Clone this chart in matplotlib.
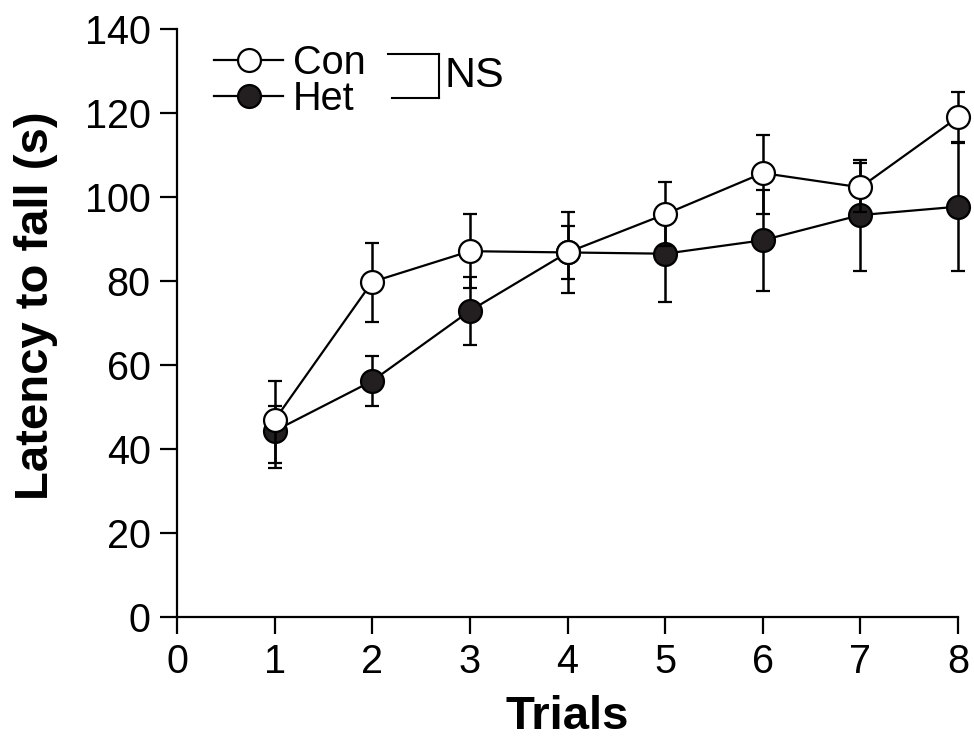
import matplotlib.pyplot as plt
from matplotlib.lines import Line2D

# datos
trials = [1, 2, 3, 4, 5, 6, 7, 8]
con_mean = [46.9, 79.8, 87.1, 86.8, 95.9, 105.7, 102.3, 119.0]
con_err_low = [10.2, 9.6, 8.8, 6.4, 7.6, 9.8, 5.8, 5.9]
con_err_up = [9.3, 9.2, 8.8, 6.4, 7.6, 9.1, 5.8, 5.9]
het_mean = [44.3, 56.2, 72.9, 86.8, 86.5, 89.7, 95.7, 97.7]
het_err_low = [8.8, 5.9, 8.1, 9.6, 11.4, 12.0, 13.2, 15.2]
het_err_up = [5.9, 5.9, 8.1, 9.6, 11.4, 12.0, 13.2, 15.2]

plt.rcParams['font.family'] = ['Liberation Sans', 'DejaVu Sans']

W, H = 974, 740
fig = plt.figure(figsize=(W / 100, H / 100), dpi=100)
ax = fig.add_axes([177 / W, 1 - 617 / H, (958 - 177) / W, (617 - 29) / H])

dark = '#231f20'
common = dict(color='black', lw=1.6, capsize=5, capthick=1.8, elinewidth=1.8,
              markersize=16.5, markeredgewidth=1.6, markeredgecolor='black', clip_on=False)

ax.errorbar(trials, het_mean, yerr=[het_err_low, het_err_up], fmt='-o',
            markerfacecolor=dark, zorder=3, **common)
ax.errorbar(trials, con_mean, yerr=[con_err_low, con_err_up], fmt='-o',
            markerfacecolor='white', zorder=4, **common)

ax.set_xlim(0, 8)
ax.set_ylim(0, 140)
ax.set_xticks(range(0, 9))
ax.set_yticks(range(0, 141, 20))
for s in ['top', 'right']:
    ax.spines[s].set_visible(False)
for s in ['left', 'bottom']:
    ax.spines[s].set_linewidth(1.6)
ax.tick_params(direction='out', length=12, width=1.6, labelsize=28.5, pad=7)

ax.set_xlabel('Trials', fontsize=34, fontweight='bold', labelpad=10)
ax.set_ylabel('Latency to fall (s)', fontsize=34, fontweight='bold')
ax.yaxis.set_label_coords(-0.152, 0.53)

# leyenda
handles = [
    Line2D([], [], color='black', lw=1.6, marker='o', markersize=16.5,
           markerfacecolor='white', markeredgecolor='black', markeredgewidth=1.6),
    Line2D([], [], color='black', lw=1.6, marker='o', markersize=16.5,
           markerfacecolor=dark, markeredgecolor='black', markeredgewidth=1.6),
]
fig.legend(handles, ['Con', 'Het'], loc='upper left', bbox_to_anchor=(214 / W, 1 - 44 / H),
           frameon=False, fontsize=28.5, handlelength=1.75, handletextpad=0.25,
           labelspacing=-0.05, borderpad=0, borderaxespad=0)

# corchete NS
def px(x, y):
    return x / W, 1 - y / H

for (x0, y0), (x1, y1) in [((388, 54), (439, 54)), ((392, 98), (439, 98)), ((439, 54), (439, 98))]:
    a, b = px(x0, y0)
    c, d = px(x1, y1)
    fig.add_artist(Line2D([a, c], [b, d], color='black', lw=1.5))
tx, ty = px(444, 76)
fig.text(tx, ty, 'NS', fontsize=31, va='center', ha='left')

plt.savefig('out.png', dpi=100)
